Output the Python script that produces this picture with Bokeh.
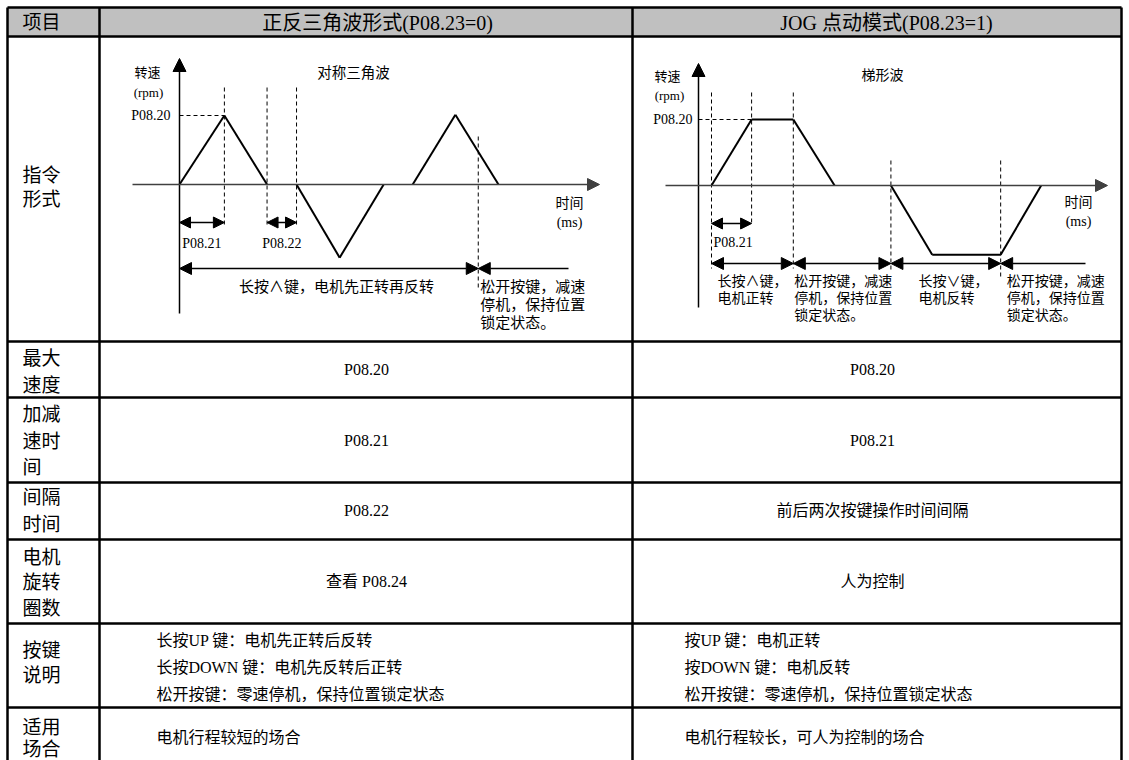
from bokeh.plotting import figure
from bokeh.models import Range1d, Arrow, NormalHead
from bokeh.core.properties import value
from bokeh.embed import file_html
from bokeh.resources import INLINE

# ---------------- data ----------------
header_labels = ["项目", "正反三角波形式(P08.23=0)", "JOG 点动模式(P08.23=1)"]
row_labels = [["指令", "形式"], ["最大", "速度"], ["加减", "速时", "间"], ["间隔", "时间"],
              ["电机", "旋转", "圈数"], ["按键", "说明"], ["适用", "场合"]]
triangle_cells = ["P08.20", "P08.21", "P08.22", "查看 P08.24"]
jog_cells = ["P08.20", "P08.21", "前后两次按键操作时间间隔", "人为控制"]
triangle_keys = ["长按UP 键：电机先正转后反转", "长按DOWN 键：电机先反转后正转", "松开按键：零速停机，保持位置锁定状态"]
jog_keys = ["按UP 键：电机正转", "按DOWN 键：电机反转", "松开按键：零速停机，保持位置锁定状态"]
triangle_use = "电机行程较短的场合"
jog_use = "电机行程较长，可人为控制的场合"

# waveform (time in ramp units, speed in units of P08.20)
tri_t = [0, 1.02, 1.99, 2.66, 3.64, 4.64, 5.30, 6.27, 7.25]
tri_v = [0, 1.0, 0, 0, -1.06, 0, 0, 1.01, 0]
tri_release = 6.79
jog_t = [0, 0.99, 2.02, 3.04, 4.43, 5.45, 7.14, 8.14]
jog_v = [0, 1.0, 1.0, 0, 0, -1.05, -1.05, 0]

# ---------------- layout ----------------
W, H = 1129, 760
X0, X1, Y0, Y1 = 0, W, 0, H
row_edges = [7, 36, 341, 397, 482, 539, 623, 707, 775]
col_edges = [7, 99, 632, 1121]

# diagram mappings (origin px, px per unit)
LX0, LUX, LY0, LUY = 179, 44, 184, 69
RX0, RUX, RY0, RUY = 711, 40.5, 185, 66

p = figure(width=W, height=H, x_range=Range1d(X0, X1), y_range=Range1d(Y1, Y0),
           output_backend="svg", toolbar_location=None, min_border=0,
           x_axis_location=None, y_axis_location=None, background_fill_color="white")
p.grid.visible = False
p.outline_line_color = None
p.extra_x_ranges = {"L": Range1d((X0 - LX0) / LUX, (X1 - LX0) / LUX),
                    "R": Range1d((X0 - RX0) / RUX, (X1 - RX0) / RUX)}
p.extra_y_ranges = {"L": Range1d((LY0 - Y1) / LUY, (LY0 - Y0) / LUY),
                    "R": Range1d((RY0 - Y1) / RUY, (RY0 - Y0) / RUY)}

FONT = value("'Liberation Serif', 'Noto Sans CJK SC', serif")


def txt(x, y, s, size, align="left"):
    p.text(x=[x], y=[y], text=[s], text_font=FONT, text_font_size=f"{size}px",
           text_align=align, text_baseline="middle", text_color="black")


def arrow(x0, y0, x1, y1, start=False, end=True, size=12, color="black", lw=1.5):
    kw = {}
    if start:
        kw["start"] = NormalHead(size=size, fill_color=color, line_color=color, line_width=1)
    kw["end"] = NormalHead(size=size, fill_color=color, line_color=color, line_width=1) if end else None
    p.add_layout(Arrow(x_start=x0, y_start=y0, x_end=x1, y_end=y1, line_color=color,
                       line_width=lw, **kw))


def dashed(xs0, ys0, xs1, ys1):
    p.segment(xs0, ys0, xs1, ys1, line_color="black", line_width=1, line_dash="4 3")


def wave(ts, vs, name):
    # draw the waveform, leaving out the pieces that lie on the zero line
    keep = [i for i in range(len(ts) - 1) if not (vs[i] == 0 and vs[i + 1] == 0)]
    p.segment([ts[i] for i in keep], [vs[i] for i in keep],
              [ts[i + 1] for i in keep], [vs[i + 1] for i in keep],
              x_range_name=name, y_range_name=name, line_color="black", line_width=2)


# ---------------- table ----------------
p.quad(left=[col_edges[0]], right=[col_edges[-1]], top=[row_edges[0]], bottom=[row_edges[1]],
       fill_color="#c0c0c0", line_color=None)
p.segment([col_edges[0]] * len(row_edges), row_edges, [col_edges[-1]] * len(row_edges), row_edges,
          line_color="black", line_width=2.5)
p.segment(col_edges, [row_edges[0]] * len(col_edges), col_edges, [row_edges[-1]] * len(col_edges),
          line_color="black", line_width=2.5)

txt(22, 22, header_labels[0], 19)
txt(377, 22, header_labels[1], 20, "center")
txt(886, 22, header_labels[2], 20, "center")

label_ys = [[175, 199], [358, 385], [414, 441, 467], [497, 524], [557, 582, 608], [650, 675], [727, 749]]
for lines, ys in zip(row_labels, label_ys):
    for s, y in zip(lines, ys):
        txt(22, y, s, 19)

cell_ys = [369, 440, 510, 581]
for s, y in zip(triangle_cells, cell_ys):
    txt(366, y, s, 16, "center")
for s, y in zip(jog_cells, cell_ys):
    txt(872, y, s, 16, "center")
for i, (a, b) in enumerate(zip(triangle_keys, jog_keys)):
    y = 640 + 27 * i
    txt(156, y, a, 16)
    txt(684, y, b, 16)
txt(156, 737, triangle_use, 16)
txt(684, 737, jog_use, 16)


# ---------------- left diagram (triangle) ----------------
def lx(t):
    return LX0 + LUX * t


def ly(v):
    return LY0 - LUY * v


arrow(lx(0), 313, lx(0), 58, size=13)
arrow(132, LY0, 599, LY0, size=12, color="#404040")
wave(tri_t, tri_v, "L")
dashed([lx(0)], [ly(tri_v[1])], [lx(tri_t[1])], [ly(tri_v[1])])
dashed([lx(tri_t[1]), lx(tri_t[2]), lx(tri_t[3]), lx(tri_release)],
       [87, 87, 87, 136], [lx(tri_t[1]), lx(tri_t[2]), lx(tri_t[3]), lx(tri_release)],
       [225, 225, 225, 288])
arrow(lx(0), 222, lx(tri_t[1]), 222, start=True, size=11)
arrow(lx(tri_t[2]), 222, lx(tri_t[3]), 222, start=True, size=11)
arrow(lx(0), 268, lx(tri_release), 268, start=True, size=12)
arrow(lx(tri_release), 268, 568, 268, start=True, end=False, size=12)

txt(147, 72, "转速", 13, "center")
txt(148, 92, "(rpm)", 13, "center")
txt(170, ly(tri_v[1]), "P08.20", 14, "right")
txt(353, 72, "对称三角波", 14.5, "center")
txt(569, 203, "时间", 14, "center")
txt(569, 222, "(ms)", 14, "center")
txt((lx(0) + lx(tri_t[1])) / 2, 243, "P08.21", 14, "center")
txt((lx(tri_t[2]) + lx(tri_t[3])) / 2, 243, "P08.22", 14, "center")
txt(336, 286, "长按∧键，电机先正转再反转", 15, "center")
for i, s in enumerate(["松开按键，减速", "停机，保持位置", "锁定状态。"]):
    txt(lx(tri_release) + 2, 286 + 18 * i, s, 15)


# ---------------- right diagram (JOG) ----------------
def rx(t):
    return RX0 + RUX * t


def ry(v):
    return RY0 - RUY * v


AXR = 698
arrow(AXR, 307, AXR, 63, size=13)
arrow(665, RY0, 1107, RY0, size=12, color="#404040")
wave(jog_t, jog_v, "R")
dashed([AXR], [ry(jog_v[1])], [rx(jog_t[1])], [ry(jog_v[1])])
vx = [rx(jog_t[0]), rx(jog_t[1]), rx(jog_t[2]), rx(jog_t[4]), rx(jog_t[6])]
dashed(vx, [92, 92, 92, 160, 160], vx, [268, 225, 268, 270, 278])
arrow(rx(jog_t[0]), 223, rx(jog_t[1]), 223, start=True, size=11)
arrow(rx(jog_t[0]), 263, rx(jog_t[2]), 263, start=True, size=12)
arrow(rx(jog_t[2]), 263, rx(jog_t[4]), 263, start=True, size=12)
arrow(rx(jog_t[4]), 263, rx(jog_t[6]), 263, start=True, size=12)
arrow(rx(jog_t[6]), 263, 1085, 263, start=True, end=False, size=12)

txt(667, 76, "转速", 13, "center")
txt(669, 95, "(rpm)", 13, "center")
txt(692, ry(jog_v[1]), "P08.20", 14, "right")
txt(882, 75, "梯形波", 14, "center")
txt(1078, 202, "时间", 14, "center")
txt(1078, 221, "(ms)", 14, "center")
txt(rx(jog_t[0]) + 2, 242, "P08.21", 14)
jog_notes = [["长按∧键，", "电机正转"], ["松开按键，减速", "停机，保持位置", "锁定状态。"],
             ["长按∨键，", "电机反转"], ["松开按键，减速", "停机，保持位置", "锁定状态。"]]
note_x = [717, rx(jog_t[2]) + 1, 918, rx(jog_t[6]) + 6]
for xs, lines in zip(note_x, jog_notes):
    for i, s in enumerate(lines):
        txt(xs, 281 + 17 * i, s, 14)

open("out.html", "w").write(file_html(p, INLINE))
